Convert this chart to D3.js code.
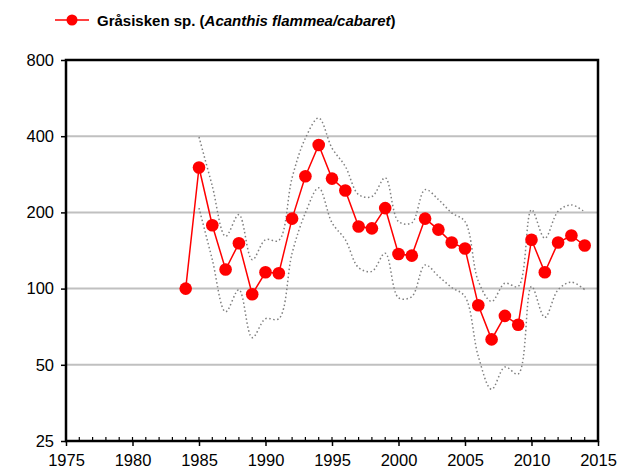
<!DOCTYPE html>
<html>
<head>
<meta charset="utf-8">
<script src="https://cdn.jsdelivr.net/npm/d3@7"></script>
<style>
  html, body { margin: 0; padding: 0; background: #fff; }
  svg { display: block; font-family: "Liberation Sans", Arial, sans-serif; }
</style>
</head>
<body>
<svg id="chart" width="626" height="476"></svg>
<script>
  // index (gråsisken), with upper/lower confidence bands
  const years = [1984,1985,1986,1987,1988,1989,1990,1991,1992,1993,1994,1995,1996,1997,1998,1999,
                 2000,2001,2002,2003,2004,2005,2006,2007,2008,2009,2010,2011,2012,2013,2014];
  const index = [100,301,178,119,151,95,116,115,189,278,369,272,244,176,173,208,
                 137,135,189,171,152,144,86,63,78,72,156,116,152,162,148];
  const upper = [null,397,254,161,196,130,156,155,274,393,472,359,304,235,231,274,
                 184,182,246,225,199,184,107,89,105,102,205,158,202,214,201];
  const lower = [null,208,130,81,99,64,76,76,138,199,250,182,156,121,117,138,
                 92,93,124,112,101,93,54,40,49,46,102,77,99,106,99];
  const yTicks = [25, 50, 100, 200, 400, 800];
  const xTicks = [1975,1980,1985,1990,1995,2000,2005,2010,2015];

  const svg = d3.select("#chart");
  const m = { left: 66, right: 598, top: 60, bottom: 441 };

  const x = d3.scaleLinear().domain([1975, 2015]).range([m.left, m.right]);
  const y = d3.scaleLog().base(2).domain([25, 800]).range([m.bottom, m.top]);

  // grid
  svg.append("g").selectAll("line")
    .data(yTicks.filter(d => d > 25 && d < 800))
    .join("line")
    .attr("x1", m.left).attr("x2", m.right)
    .attr("y1", d => y(d)).attr("y2", d => y(d))
    .attr("stroke", "#c0c0c0").attr("stroke-width", 2);

  // y axis
  const yAxis = svg.append("g").attr("transform", `translate(${m.left},0)`)
    .call(d3.axisLeft(y).tickValues(yTicks).tickFormat(d3.format("d")).tickSize(5).tickPadding(7));
  yAxis.select(".domain").remove();
  yAxis.selectAll("line").attr("stroke", "#000").attr("stroke-width", 1.5);
  yAxis.selectAll("text").attr("font-size", 16.5).attr("fill", "#000");

  // x axis: minor ticks inside, major ticks outside
  const xAxis = svg.append("g").attr("transform", `translate(0,${m.bottom})`)
    .call(d3.axisBottom(x).tickValues(xTicks).tickFormat(d3.format("d")).tickSize(5).tickPadding(8));
  xAxis.select(".domain").remove();
  xAxis.selectAll("line").attr("stroke", "#000").attr("stroke-width", 1.5);
  xAxis.selectAll("text").attr("font-size", 16.5).attr("fill", "#000");
  svg.append("g").selectAll("line")
    .data(d3.range(1976, 2015))
    .join("line")
    .attr("x1", d => x(d)).attr("x2", d => x(d))
    .attr("y1", m.bottom).attr("y2", m.bottom - 4)
    .attr("stroke", "#000").attr("stroke-width", 1.2);

  // frame
  svg.append("rect")
    .attr("x", m.left).attr("y", m.top)
    .attr("width", m.right - m.left).attr("height", m.bottom - m.top)
    .attr("fill", "none").attr("stroke", "#000").attr("stroke-width", 2.5);

  // confidence bands (smoothed, dotted)
  const band = d3.line()
    .defined(d => d[1] != null)
    .x(d => x(d[0])).y(d => y(d[1]))
    .curve(d3.curveCatmullRom.alpha(0.5));
  [upper, lower].forEach(arr => {
    svg.append("path")
      .datum(years.map((yr, i) => [yr, arr[i]]))
      .attr("d", band)
      .attr("fill", "none")
      .attr("stroke", "#808080")
      .attr("stroke-width", 1.5)
      .attr("stroke-dasharray", "1.5,2.5");
  });

  // index line + markers
  const pts = years.map((yr, i) => [yr, index[i]]);
  svg.append("path")
    .datum(pts)
    .attr("d", d3.line().x(d => x(d[0])).y(d => y(d[1])))
    .attr("fill", "none").attr("stroke", "#ff0000").attr("stroke-width", 1.5);
  svg.append("g").selectAll("circle")
    .data(pts)
    .join("circle")
    .attr("cx", d => x(d[0])).attr("cy", d => y(d[1]))
    .attr("r", 6.3).attr("fill", "#ff0000");

  // legend
  const lg = svg.append("g");
  lg.append("line").attr("x1", 55).attr("x2", 89).attr("y1", 20).attr("y2", 20)
    .attr("stroke", "#ff0000").attr("stroke-width", 1.5);
  lg.append("circle").attr("cx", 72).attr("cy", 20).attr("r", 5.5).attr("fill", "#ff0000");
  const t = lg.append("text").attr("x", 97).attr("y", 25.5)
    .attr("font-size", 15).attr("font-weight", "bold").attr("fill", "#000");
  t.append("tspan").text("Gråsisken sp. (");
  t.append("tspan").attr("font-style", "italic").text("Acanthis flammea/cabaret");
  t.append("tspan").text(")");
</script>
</body>
</html>
